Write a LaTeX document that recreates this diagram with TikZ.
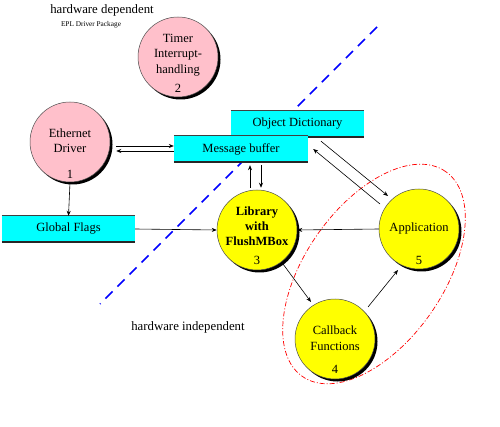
\documentclass[tikz,border=0pt]{standalone}
\usepackage{fontspec}
\setmainfont{Liberation Serif}
\usetikzlibrary{arrows.meta,shadows,calc}
\definecolor{aqua}{RGB}{0,255,255}
\definecolor{pinkc}{RGB}{255,192,203}
\definecolor{yel}{RGB}{255,255,0}
\begin{document}
\begin{tikzpicture}[x=1pt,y=-1pt,
  bubble/.style={circle,draw=black!70,line width=0.5pt,minimum size=80pt,inner sep=0pt,
     drop shadow={shadow xshift=2.5pt,shadow yshift=-2.5pt,opacity=1,fill=black}},
  pinkb/.style={bubble,fill=pinkc},
  yellowb/.style={bubble,fill=yel},
  btext/.style={inner sep=0pt,align=center,font=\fontsize{12.5}{15.5}\selectfont},
  store/.style={fill=aqua,minimum height=26pt,inner sep=0pt,font=\fontsize{12.5}{14}\selectfont},
  num/.style={font=\fontsize{12.5}{14}\selectfont,inner sep=0pt},
  arr/.style={-{Stealth[length=5pt,width=4pt]},line width=0.6pt,black},
  lbl/.style={inner sep=0pt},
]
\useasboundingbox (0,0) rectangle (500,427);
% blue dashed separator
\coordinate (sepA) at (377,27);
\coordinate (sepB) at (100,304);
\draw[blue,line width=1.6pt,dash pattern=on 10pt off 7pt] (sepA) -- (sepB);
% texts
\node[lbl,font=\fontsize{12.8}{14}\selectfont] (hd) at (102,10) {hardware dependent};
\node[lbl,font=\fontsize{7.3}{8}\selectfont] (epl) at (91,25) {EPL Driver Package};
\node[lbl,font=\fontsize{12.8}{14}\selectfont] (hi) at (188,327) {hardware independent};
% red ellipse
\draw[red,line width=0.7pt,dash pattern=on 5pt off 2pt on 1pt off 2pt,rotate around={55:(374,274)}]
  (374,274) ellipse [x radius=125pt, y radius=69pt];
% bubbles
\node[pinkb] (timer) at (178,57) {};
\node[btext] (timerT) at (178,55) {Timer\\Interrupt-\\handling};
\node[num] (n2) at (178,88) {2};
\node[pinkb] (eth) at (70,142) {};
\node[btext] (ethT) at (70,140.5) {Ethernet\\Driver};
\node[num] (n1) at (70,174) {1};
\node[yellowb] (lib) at (257,230) {};
\node[btext,font=\bfseries\fontsize{12.5}{15}\selectfont] (libT) at (257,226.5) {Library\\with\\FlushMBox};
\node[num] (n3) at (257,260) {3};
\node[yellowb] (app) at (419,229) {};
\node[btext] (appT) at (419,228) {Application};
\node[num] (n5) at (419,260) {5};
\node[yellowb] (cb) at (335,339) {};
\node[btext] (cbT) at (335,338) {Callback\\Functions};
\node[num] (n4) at (335,369) {4};
% data stores
\node[store,minimum width=133pt] (od) at (297.5,124) {Object Dictionary};
\draw[black!75,line width=1pt] (od.north west) -- (od.north east);
\draw[black!85,line width=1.4pt] (od.south west) -- (od.south east);
\node[store,minimum width=134pt] (mb) at (241,149) {Message buffer};
\draw[black!75,line width=1pt] (mb.north west) -- (mb.north east);
\draw[black!85,line width=1.4pt] (mb.south west) -- (mb.south east);
\node[store,minimum width=133pt] (gf) at (68.5,229) {Global Flags};
\draw[black!75,line width=1pt] (gf.north west) -- (gf.north east);
\draw[black!85,line width=1.4pt] (gf.south west) -- (gf.south east);
% connectors
\draw[arr] (eth.south) -- (gf.north);
\draw[arr] ($(eth.east)+(6,4)$) -- ($(eth.east -| mb.west)+(0,4)$);
\draw[arr] ($(eth.east -| mb.west)+(0,9)$) -- ($(eth.east)+(6,9)$);
\draw[arr] ($(lib.north)+(-7,-2)$) -- ($(lib.north |- mb.south)+(-7,3)$);
\draw[arr] ($(lib.north |- mb.south)+(4,3)$) -- ($(lib.north)+(4,-2)$);
\draw[arr] (gf.east) -- (lib.west);
\draw[arr] (app.west) -- (lib.east);
\draw[arr] ($(od.south)+(23.5,4)$) -- ($(app.center)+(-31,-33)$);
\draw[arr] ($(app.center)+(-39,-25)$) -- ($(mb.east)+(5,0)$);
\draw[arr] ($(lib.center)+(26,34)$) -- ($(cb.center)+(-24,-37)$);
\draw[arr] ($(cb.center)+(33,-32)$) -- ($(app.center)+(-21,41)$);
\end{tikzpicture}
\end{document}
